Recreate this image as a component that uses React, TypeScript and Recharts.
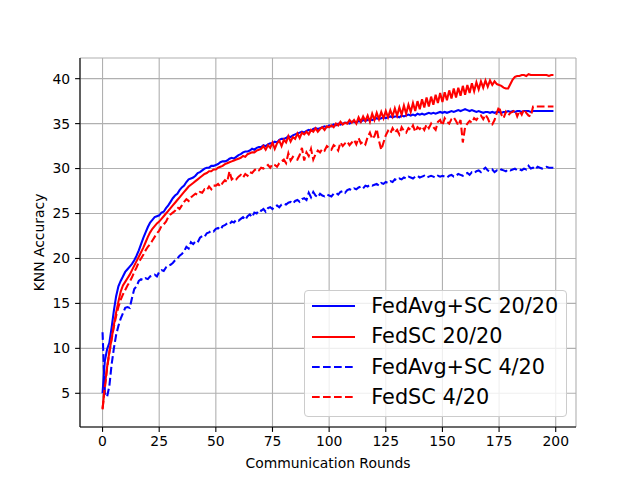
import React from 'react';
import { LineChart, Line, XAxis, YAxis, CartesianGrid, Legend } from 'recharts';

const FONT = '"DejaVu Sans", sans-serif';

// communication rounds 0..199 (x positions)
const rounds = Array.from({ length: 200 }, (_, i) => i);

const fedAvgSc2020 = [
  5.0, 8.6, 9.9, 10.6, 12.3, 14.2, 15.8, 16.9, 17.5, 18.0,
  18.5, 18.8, 19.1, 19.4, 19.8, 20.3, 20.9, 21.6, 22.3, 22.9,
  23.5, 24.0, 24.3, 24.6, 24.7, 24.8, 25.1, 25.2, 25.6, 25.9,
  26.3, 26.7, 27.0, 27.2, 27.6, 27.9, 28.1, 28.5, 28.8, 28.9,
  29.0, 29.2, 29.5, 29.6, 29.8, 30.0, 30.1, 30.1, 30.3, 30.3,
  30.4, 30.5, 30.7, 30.8, 30.8, 30.9, 31.1, 31.2, 31.1, 31.3,
  31.5, 31.6, 31.8, 31.9, 31.9, 32.0, 32.2, 32.1, 32.3, 32.4,
  32.4, 32.6, 32.5, 32.7, 32.8, 32.8, 33.0, 32.9, 33.2, 33.3,
  33.3, 33.4, 33.6, 33.5, 33.7, 33.8, 33.9, 34.0, 34.1, 34.0,
  34.2, 34.3, 34.2, 34.4, 34.5, 34.4, 34.5, 34.6, 34.7, 34.6,
  34.8, 34.7, 34.9, 34.8, 35.0, 34.9, 35.0, 35.1, 35.1, 35.0,
  35.2, 35.2, 35.1, 35.3, 35.2, 35.4, 35.3, 35.4, 35.5, 35.4,
  35.5, 35.6, 35.5, 35.6, 35.7, 35.6, 35.7, 35.8, 35.7, 35.8,
  35.8, 35.7, 35.9, 35.8, 35.9, 36.0, 35.9, 36.0, 35.9, 36.1,
  36.0, 36.1, 36.0, 36.1, 36.2, 36.1, 36.2, 36.1, 36.2, 36.3,
  36.2, 36.3, 36.2, 36.3, 36.4, 36.3, 36.4, 36.5, 36.4, 36.5,
  36.6, 36.5, 36.4, 36.5, 36.4, 36.3, 36.4, 36.3, 36.2, 36.3,
  36.3, 36.2, 36.3, 36.2, 36.3, 36.3, 36.2, 36.3, 36.3, 36.4,
  36.3, 36.4, 36.3, 36.4, 36.4, 36.3, 36.4, 36.4, 36.4, 36.3,
  36.4, 36.4, 36.4, 36.4, 36.4, 36.4, 36.4, 36.4, 36.4, 36.4,
];

const fedSc2020 = [
  3.2, 5.8, 7.9, 9.6, 11.1, 12.6, 14.0, 15.2, 16.3, 17.0,
  17.4, 17.8, 18.2, 18.7, 19.2, 19.7, 20.2, 20.7, 21.2, 21.8,
  22.4, 22.9, 23.3, 23.6, 23.9, 24.1, 24.4, 24.7, 25.0, 25.3,
  25.6, 25.9, 26.2, 26.5, 26.8, 27.1, 27.4, 27.7, 28.0, 28.2,
  28.4, 28.6, 28.8, 29.0, 29.2, 29.4, 29.5, 29.7, 29.7, 29.9,
  29.9, 30.1, 30.2, 30.3, 30.5, 30.6, 30.7, 30.8, 30.9, 31.0,
  31.1, 31.2, 31.4, 31.3, 31.6, 31.7, 31.8, 31.8, 32.0, 32.1,
  32.2, 32.5, 32.1, 32.6, 32.3, 32.9, 32.2, 32.8, 33.1, 32.5,
  33.2, 32.9, 33.6, 33.0, 33.5, 33.3, 33.9, 33.4, 34.0, 33.8,
  34.1, 33.8, 34.3, 34.1, 34.5, 34.1, 34.4, 34.6, 34.3, 34.7,
  34.6, 34.8, 34.6, 35.0, 34.8, 35.2, 34.9, 35.1, 35.0, 35.4,
  35.1, 35.4, 35.0, 35.7, 35.2, 35.8, 35.3, 35.9, 35.2, 36.1,
  35.4, 36.2, 35.5, 36.3, 35.6, 36.4, 35.7, 36.5, 35.8, 36.7,
  35.9, 36.8, 36.0, 37.0, 36.1, 37.1, 36.3, 37.3, 36.4, 37.5,
  36.6, 37.7, 36.8, 37.9, 36.9, 38.0, 37.1, 38.2, 37.3, 38.4,
  37.4, 38.5, 37.6, 38.7, 37.8, 38.9, 37.9, 39.0, 38.1, 39.2,
  38.2, 39.3, 38.4, 39.5, 38.6, 39.6, 38.8, 39.7, 39.0, 39.8,
  39.1, 39.8, 39.3, 39.7, 39.4, 39.3, 39.2, 39.0, 38.9, 38.9,
  39.4, 39.9, 40.2, 40.3, 40.3, 40.4, 40.4, 40.3, 40.5, 40.4,
  40.4, 40.4, 40.4, 40.4, 40.4, 40.4, 40.4, 40.3, 40.4, 40.4,
];

const fedAvgSc420 = [
  11.8, 5.0, 4.6, 5.8, 8.2, 10.0, 11.5, 12.5, 13.3, 13.9,
  14.5, 14.6, 14.5, 15.6, 16.6, 16.9, 17.5, 17.7, 17.6, 17.8,
  17.7, 18.0, 18.1, 18.2, 18.0, 18.5, 18.7, 18.6, 19.0, 19.2,
  19.3, 19.5, 19.8, 20.0, 20.3, 20.5, 20.8, 21.3, 21.1, 21.8,
  21.6, 21.9, 21.8, 22.3, 22.5, 22.4, 22.8, 22.9, 23.1, 23.0,
  23.3, 23.4, 23.2, 23.6, 23.7, 23.9, 23.8, 24.1, 24.0, 24.3,
  24.2, 24.4, 24.6, 24.3, 24.7, 24.9, 24.6, 25.1, 25.0, 25.4,
  25.3, 25.5, 25.2, 25.6, 25.7, 25.5, 25.8, 25.9, 25.7, 26.0,
  26.1, 26.0, 26.2, 26.3, 26.1, 26.4, 26.5, 26.3, 26.6, 26.7,
  26.5, 27.3, 26.8, 27.4, 27.0, 26.8, 27.2, 27.0, 26.9, 27.1,
  27.0, 26.9, 27.2, 27.3, 27.1, 27.4, 27.5, 27.3, 27.6, 27.7,
  27.6, 27.8, 27.7, 27.9, 28.0, 27.8, 28.1, 28.0, 28.2, 28.1,
  28.2, 28.3, 28.1, 28.4, 28.3, 28.5, 28.4, 28.6, 28.5, 28.8,
  28.7, 28.9, 28.8, 29.0, 28.9, 29.1, 29.0, 28.9, 29.1, 29.2,
  29.0, 29.1, 29.2, 29.0, 29.1, 29.2, 29.1, 29.0, 29.2, 29.1,
  29.2, 29.1, 29.0, 29.2, 29.3, 29.1, 29.2, 29.4, 29.3, 29.2,
  29.4, 29.5, 29.3, 29.6, 29.5, 29.7, 29.8, 29.6, 29.9, 30.1,
  29.8, 29.7, 29.9, 29.6, 29.8, 29.7, 29.9, 29.8, 29.7, 29.9,
  29.8, 29.9, 30.0, 29.8, 29.9, 29.8, 30.0, 29.9, 30.3, 30.0,
  30.1, 29.9, 30.2, 30.1, 30.0, 30.1, 30.2, 30.1, 30.1, 30.1,
];

const fedSc420 = [
  3.3, 5.5, 7.8, 9.5, 11.0, 12.4, 13.6, 14.6, 15.4, 16.0,
  16.5, 17.0, 17.4, 17.9, 18.5, 19.0, 19.6, 20.0, 20.4, 20.9,
  21.3, 21.6, 22.0, 22.4, 22.8, 23.1, 23.6, 23.8, 24.1, 24.6,
  24.9, 25.1, 25.3, 25.7, 25.5, 25.9, 26.3, 26.6, 26.4, 26.8,
  27.0, 27.2, 27.1, 27.4, 27.3, 27.7, 27.6, 28.0, 27.7, 28.1,
  28.1, 28.3, 28.0, 28.4, 28.7, 28.5, 29.7, 28.8, 29.0, 28.8,
  29.1, 29.3, 29.0, 29.4, 29.2, 29.6, 29.5, 29.8, 30.0, 29.8,
  30.1, 30.0, 30.2, 30.4, 30.1, 30.5, 30.4, 30.2, 30.6, 30.8,
  31.0, 30.6, 31.7, 30.9, 31.3, 31.1, 31.0, 31.5, 32.3, 30.9,
  31.8, 31.4, 32.2, 31.0, 31.6, 32.0, 31.8, 32.2, 32.0, 32.5,
  32.3, 32.1, 32.6, 32.4, 32.0, 32.9, 32.5, 32.8, 33.0, 32.6,
  32.9, 33.2, 32.7, 33.4, 32.8, 33.0, 32.7, 33.5, 34.0, 33.3,
  33.6, 34.4, 33.1, 32.1, 32.9, 33.7, 34.2, 33.9, 34.5, 34.0,
  34.3, 33.8, 34.6, 34.2, 34.0, 34.5, 34.3, 34.8, 34.1, 34.6,
  34.4, 34.7, 34.3, 34.9, 34.5, 35.0, 34.6, 34.3, 35.2, 35.4,
  34.8, 35.6, 35.2, 35.0, 35.5, 35.7, 35.3, 34.8, 35.4, 32.9,
  34.6, 35.0, 35.3, 35.1, 35.6, 35.4, 35.8, 35.9, 35.5, 36.0,
  35.6, 35.0, 34.9, 35.4, 36.2, 36.9, 36.0, 35.6, 36.3, 35.9,
  36.2, 36.3, 36.5, 35.8, 36.4, 36.0, 36.6, 36.2, 35.9, 35.8,
  36.9, 36.9, 36.9, 36.9, 36.9, 36.9, 36.9, 36.9, 36.9, 36.9,
];

const xTicks = [0, 25, 50, 75, 100, 125, 150, 175, 200];
const yTicks = [5, 10, 15, 20, 25, 30, 35, 40];

const series = [
  { key: 'fedAvgSc2020', name: 'FedAvg+SC 20/20', color: '#0000ff', dash: undefined },
  { key: 'fedSc2020', name: 'FedSC 20/20', color: '#ff0000', dash: undefined },
  { key: 'fedAvgSc420', name: 'FedAvg+SC 4/20', color: '#0000ff', dash: '7.7 3.3' },
  { key: 'fedSc420', name: 'FedSC 4/20', color: '#ff0000', dash: '7.7 3.3' },
];

const data = rounds.map((r, i) => ({
  round: r,
  fedAvgSc2020: fedAvgSc2020[i],
  fedSc2020: fedSc2020[i],
  fedAvgSc420: fedAvgSc420[i],
  fedSc420: fedSc420[i],
}));

const X_DOMAIN: [number, number] = [-9.95, 208.95];
const Y_DOMAIN: [number, number] = [1.25, 42.3];

const tickStyle = { fill: '#000', fontSize: 13.9, fontFamily: FONT };

const LegendBox = () => (
  <div
    style={{
      boxSizing: 'border-box',
      width: 263,
      height: 127,
      border: '1px solid #cccccc',
      borderRadius: 4,
      background: 'rgba(255,255,255,0.8)',
      paddingLeft: 6.7,
      fontFamily: FONT,
      fontSize: 20.8,
      color: '#000',
    }}
  >
    {series.map((s) => (
      <div key={s.key} style={{ height: 30.4, display: 'flex', alignItems: 'center' }}>
        <svg width={43} height={6} style={{ flex: 'none' }}>
          <line x1={0} y1={3} x2={43} y2={3} stroke={s.color} strokeWidth={2.08} strokeDasharray={s.dash} />
        </svg>
        <span style={{ marginLeft: 16.6, whiteSpace: 'nowrap', lineHeight: 1 }}>{s.name}</span>
      </div>
    ))}
  </div>
);

export default function App() {
  return (
    <div style={{ position: 'absolute', left: 0, top: 0, width: 640, height: 480, background: '#fff' }}>
      <LineChart width={640} height={480} data={data} margin={{ top: 58, right: 64, bottom: 0, left: 0 }}>
        <CartesianGrid stroke="#b0b0b0" strokeWidth={1.1} />
        <XAxis
          dataKey="round"
          type="number"
          domain={X_DOMAIN}
          allowDataOverflow
          ticks={xTicks}
          height={53}
          tickSize={4.9}
          tickMargin={4}
          stroke="#000"
          strokeWidth={1.1}
          tick={tickStyle}
          label={{
            value: 'Communication Rounds',
            position: 'insideBottom',
            offset: 12.5,
            style: { fill: '#000', fontSize: 13.9, fontFamily: FONT },
          }}
        />
        <XAxis
          xAxisId="top"
          orientation="top"
          type="number"
          domain={X_DOMAIN}
          allowDataOverflow
          height={0}
          tick={false}
          tickLine={false}
          stroke="#000"
          strokeWidth={1.1}
        />
        <YAxis
          type="number"
          domain={Y_DOMAIN}
          allowDataOverflow
          ticks={yTicks}
          width={80}
          tickSize={4.9}
          tickMargin={4.9}
          stroke="#000"
          strokeWidth={1.1}
          tick={tickStyle}
          label={{
            value: 'KNN Accuracy',
            angle: -90,
            position: 'insideLeft',
            offset: 39,
            style: { fill: '#000', fontSize: 13.9, fontFamily: FONT, textAnchor: 'middle' },
          }}
        />
        <YAxis
          yAxisId="right"
          orientation="right"
          type="number"
          domain={Y_DOMAIN}
          allowDataOverflow
          width={0}
          tick={false}
          tickLine={false}
          stroke="#000"
          strokeWidth={1.1}
        />
        {series.map((s) => (
          <Line
            key={s.key}
            type="linear"
            dataKey={s.key}
            name={s.name}
            stroke={s.color}
            strokeWidth={2.08}
            strokeDasharray={s.dash}
            dot={false}
            activeDot={false}
            isAnimationActive={false}
          />
        ))}
        <Legend
          layout="vertical"
          align="center"
          verticalAlign="middle"
          content={() => <LegendBox />}
          wrapperStyle={{ left: 304, top: 290, width: 263, height: 127 }}
        />
      </LineChart>
    </div>
  );
}
